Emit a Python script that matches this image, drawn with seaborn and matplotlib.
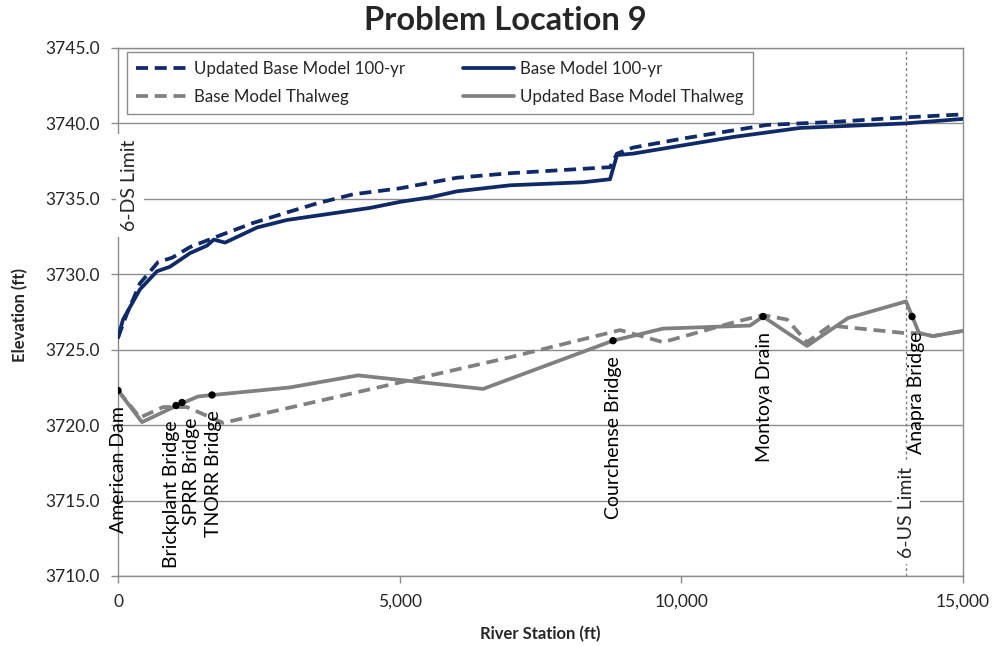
import pandas as pd
import matplotlib
matplotlib.use("Agg")
import matplotlib.pyplot as plt
from matplotlib.ticker import FuncFormatter, MultipleLocator
from matplotlib.lines import Line2D
import seaborn as sns

# 100-yr water surface (ft)
upd_100_sta = [0, 160, 390, 710, 960, 1278, 1757, 2397, 3000, 3533, 4172, 5006,
               6018, 6960, 8734, 8858, 9143, 10030, 11521, 12693, 13971, 15000]
upd_100_elev = [3725.8, 3727.4, 3729.4, 3730.8, 3731.1, 3731.8, 3732.5, 3733.4, 3734.1,
                3734.7, 3735.3, 3735.7, 3736.4, 3736.7, 3737.1, 3738.0, 3738.4, 3739.0,
                3739.9, 3740.1, 3740.4, 3740.6]

base_100_sta = [0, 89, 390, 692, 923, 1278, 1580, 1700, 1900, 2468, 3000, 4474, 5006,
                5539, 6018, 6960, 8255, 8734, 8858, 9143, 10918, 12107, 13971, 15000]
base_100_elev = [3725.8, 3727.0, 3729.0, 3730.2, 3730.5, 3731.4, 3731.9, 3732.3, 3732.1,
                 3733.1, 3733.6, 3734.4, 3734.8, 3735.1, 3735.5, 3735.9, 3736.1, 3736.3,
                 3737.9, 3738.0, 3739.1, 3739.7, 3740.0, 3740.3]

# channel thalweg (ft)
base_thal_sta = [0, 390, 800, 1225, 1864, 6960, 8911, 9675, 10918, 11450, 11876, 12231,
                 12640, 13971, 14220, 14468, 15000]
base_thal_elev = [3722.3, 3720.5, 3721.2, 3721.2, 3720.15, 3724.5, 3726.3, 3725.5, 3726.8,
                  3727.3, 3727.0, 3725.5, 3726.6, 3726.1, 3726.1, 3725.9, 3726.25]

upd_thal_sta = [0, 426, 1047, 1420, 1686, 3053, 4261, 6480, 8787, 9675, 11220, 11450,
                12231, 12960, 13989, 14220, 14468, 15000]
upd_thal_elev = [3722.3, 3720.2, 3721.3, 3721.9, 3722.0, 3722.5, 3723.3, 3722.4, 3725.6,
                 3726.4, 3726.6, 3727.2, 3725.25, 3727.1, 3728.2, 3726.1, 3725.9, 3726.25]

# landmarks
landmark_names = ["American Dam", "Brickplant Bridge", "SPRR Bridge", "TNORR Bridge",
                  "Courchense Bridge", "Montoya Drain", "Anapra Bridge"]
landmark_sta = [0, 1030, 1136, 1669, 8787, 11450, 14095]
landmark_elev = [3722.3, 3721.3, 3721.5, 3722.0, 3725.6, 3727.2, 3727.2]

limit_names = ["6-DS Limit", "6-US Limit"]
limit_sta = [0, 13990]

NAVY = "#0F2A66"
GRAY = "#808080"
GRID = "#8C8C8C"

sns.set_theme(style="whitegrid")
plt.rcParams["font.family"] = ["Lato", "DejaVu Sans"]

fig = plt.figure(figsize=(9.94, 6.46), dpi=100)
ax = fig.add_axes([118 / 994, 1 - 576 / 646, 845 / 994, 528 / 646])

dash = (0, (3.2, 1.8))
lw = 2.7

series = [
    ("Updated Base Model 100-yr", upd_100_sta, upd_100_elev, NAVY, dash),
    ("Base Model 100-yr", base_100_sta, base_100_elev, NAVY, "-"),
    ("Base Model Thalweg", base_thal_sta, base_thal_elev, GRAY, dash),
    ("Updated Base Model Thalweg", upd_thal_sta, upd_thal_elev, GRAY, "-"),
]
handles = {}
for name, sta, elev, col, ls in series:
    df = pd.DataFrame({"sta": sta, "elev": elev})
    sns.lineplot(data=df, x="sta", y="elev", ax=ax, color=col, linestyle=ls,
                 linewidth=lw, sort=False, estimator=None, zorder=3)
    handles[name] = Line2D([], [], color=col, linestyle=ls, linewidth=lw)

lm = pd.DataFrame({"sta": landmark_sta, "elev": landmark_elev, "name": landmark_names})
sns.scatterplot(data=lm, x="sta", y="elev", ax=ax, color="black", s=28,
                edgecolor="none", zorder=5)

nudge = {"Brickplant Bridge": -3, "SPRR Bridge": 7, "TNORR Bridge": 1,
         "Montoya Drain": 1, "Anapra Bridge": 3}
for _, r in lm.iterrows():
    ax.annotate(r["name"], (r["sta"], r["elev"]), xytext=(nudge.get(r["name"], 0), -11),
                textcoords="offset points", rotation=90, ha="center", va="top",
                fontsize=14, color="black", zorder=6)

# limit lines
ax.axvline(limit_sta[1], color=GRAY, linestyle=(0, (2, 2)), linewidth=1, zorder=1)
ax.text(213, 3735.9, limit_names[0], rotation=90, ha="center", va="center", fontsize=14,
        bbox=dict(facecolor="white", edgecolor="none", pad=4), zorder=4)
ax.text(limit_sta[1], 3714.2, limit_names[1], rotation=90, ha="center", va="center",
        fontsize=14, bbox=dict(facecolor="white", edgecolor="none", pad=4), zorder=4)

ax.set_xlim(0, 15000)
ax.set_ylim(3710, 3745)
ax.xaxis.set_major_locator(MultipleLocator(5000))
ax.yaxis.set_major_locator(MultipleLocator(5))
ax.xaxis.set_major_formatter(FuncFormatter(lambda v, p: f"{v:,.0f}"))
ax.yaxis.set_major_formatter(FuncFormatter(lambda v, p: f"{v:.1f}"))
ax.xaxis.grid(False)
ax.yaxis.grid(True, color=GRID, linewidth=1)
ax.set_facecolor("white")
for s in ax.spines.values():
    s.set_color(GRID)
    s.set_linewidth(1)
ax.tick_params(axis="both", which="major", direction="out", length=5, width=1,
               color=GRID, labelsize=12.5, pad=8, left=True, bottom=True)
ax.set_xlabel("")
ax.set_ylabel("")

order = ["Updated Base Model 100-yr", "Base Model Thalweg",
         "Base Model 100-yr", "Updated Base Model Thalweg"]
leg = ax.legend([handles[k] for k in order], order, ncol=2, loc="upper left",
                bbox_to_anchor=(0.0107, 0.9924), borderaxespad=0, fontsize=12.2,
                handlelength=3, handletextpad=0.4, columnspacing=3.4,
                labelspacing=0.68, borderpad=0.55, frameon=True, fancybox=False,
                framealpha=1, edgecolor=GRID)
leg.get_frame().set_linewidth(1)
leg.set_zorder(7)

fig.text(0.508, 1 - 20 / 646, "Problem Location 9", ha="center", va="center",
         fontsize=23.5, fontweight="bold")
fig.text(540 / 994, 1 - 634 / 646, "River Station (ft)", ha="center", va="center",
         fontsize=12, fontweight="bold")
fig.text(20 / 994, 1 - 315 / 646, "Elevation (ft)", ha="center", va="center",
         rotation=90, fontsize=12, fontweight="bold")

fig.savefig("out.png", dpi=100)
